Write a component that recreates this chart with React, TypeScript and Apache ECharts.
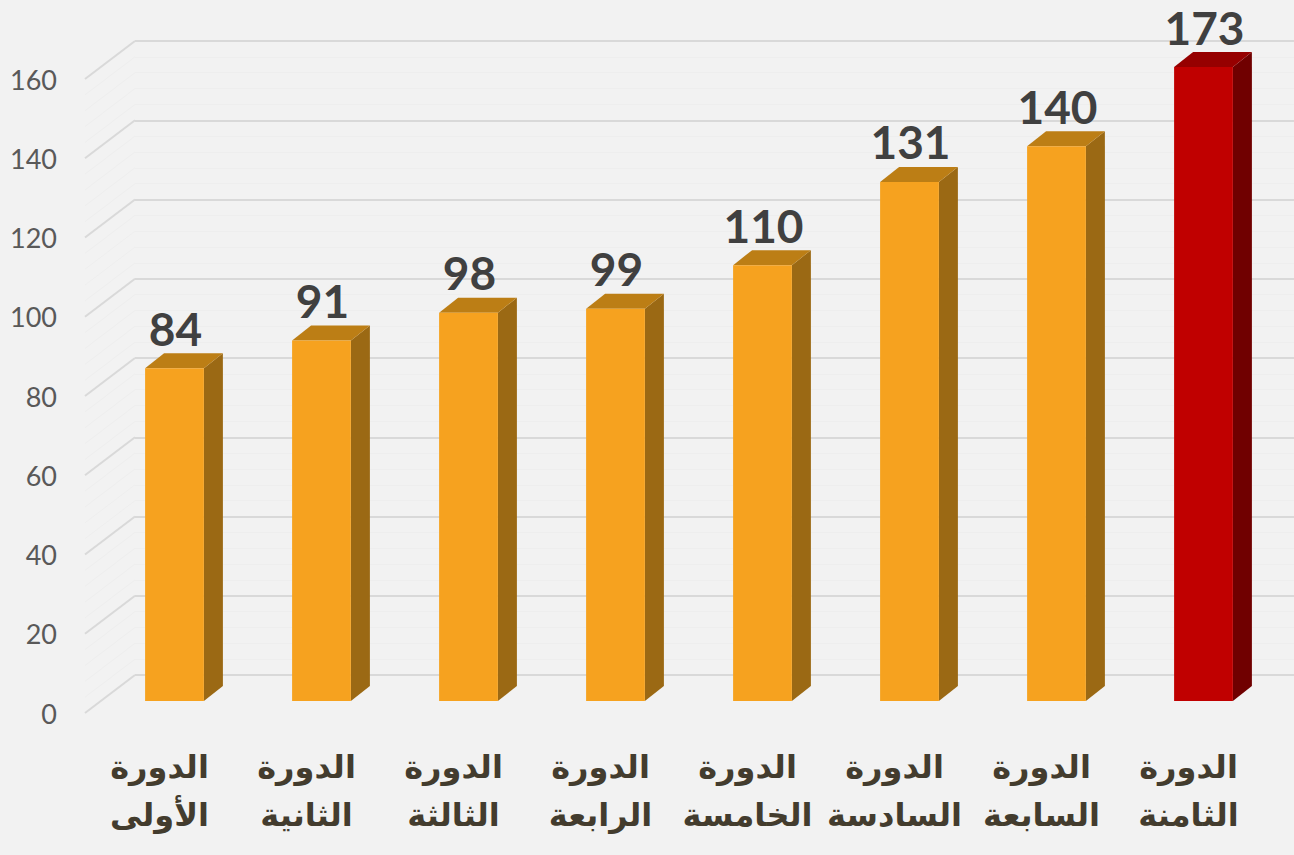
import React, { useEffect, useRef } from "react";
import * as echarts from "echarts";

const categories = [
  "الدورة\nالأولى",
  "الدورة\nالثانية",
  "الدورة\nالثالثة",
  "الدورة\nالرابعة",
  "الدورة\nالخامسة",
  "الدورة\nالسادسة",
  "الدورة\nالسابعة",
  "الدورة\nالثامنة",
];
const values = [84, 91, 98, 99, 110, 131, 140, 173];
const highlightIndex = 7;
const axisMin = 0;
const axisMax = 160;
const axisInterval = 20;
const minorStep = 4;

const minorTicks: number[] = [];
for (let v = axisMin; v <= axisMax; v += minorStep) minorTicks.push(v);

export default function App() {
  const ref = useRef<HTMLDivElement>(null);
  useEffect(() => {
    document.body.style.margin = "0";
    document.body.style.background = "#f2f2f2";
    const chart = echarts.init(ref.current!, null, { renderer: "svg" });
    const H = 634;
    const option: any = {
      animation: false,
      backgroundColor: "#f2f2f2",
      grid: [
        { left: 101, top: 67, width: 1176, height: H }, // bar plane
        { left: 135, top: 41, right: 0, height: H }, // back wall
        { left: 85, top: 79, width: 50, height: H }, // front edge (labels + diagonals)
        { left: 86, top: 79, width: 1176, height: H }, // category labels
      ],
      xAxis: [
        { type: "category", gridIndex: 0, data: categories, show: false },
        { type: "value", gridIndex: 1, min: 0, max: 1, show: false },
        { type: "value", gridIndex: 2, min: 0, max: 1, show: false },
        {
          type: "category",
          gridIndex: 3,
          data: categories,
          axisLine: { show: false },
          axisTick: { show: false },
          splitLine: { show: false },
          axisLabel: {
            interval: 0,
            margin: 30,
            color: "#433c2e",
            fontFamily: "DejaVu Sans",
            fontWeight: "bold",
            fontSize: 32,
            lineHeight: 48,
          },
        },
      ],
      yAxis: [
        { type: "value", gridIndex: 0, min: axisMin, max: axisMax, interval: axisInterval, show: false },
        {
          type: "value",
          gridIndex: 1,
          min: axisMin,
          max: axisMax,
          interval: axisInterval,
          axisLine: { show: false },
          axisTick: { show: false },
          axisLabel: { show: false },
          splitLine: { show: true, lineStyle: { color: "#d9d9d9", width: 2 } },
          minorTick: { show: false, splitNumber: 5 },
          minorSplitLine: { show: true, lineStyle: { color: "#eeeeee", width: 1 } },
        },
        {
          type: "value",
          gridIndex: 2,
          min: axisMin,
          max: axisMax,
          interval: axisInterval,
          axisLine: { show: false },
          axisTick: { show: false },
          splitLine: { show: false },
          axisLabel: {
            margin: 28,
            color: "#595959",
            fontFamily: "Lato",
            fontSize: 27,
          },
        },
        { type: "value", gridIndex: 3, min: axisMin, max: axisMax, show: false },
      ],
      series: [
        {
          type: "custom",
          xAxisIndex: 2,
          yAxisIndex: 2,
          silent: true,
          data: minorTicks.map((v) => [0, v]),
          renderItem: (params: any, api: any) => {
            const v = api.value(1);
            const p = api.coord([0, v]);
            const major = v % axisInterval === 0;
            return {
              type: "line",
              shape: { x1: p[0], y1: p[1], x2: p[0] + 50, y2: p[1] - 38 },
              style: { stroke: major ? "#d9d9d9" : "#eeeeee", lineWidth: major ? 2 : 1 },
            };
          },
        },
        {
          type: "custom",
          xAxisIndex: 0,
          yAxisIndex: 0,
          silent: true,
          clip: false,
          data: values.map((v, i) => [i, Math.min(v, axisMax), v]),
          renderItem: (params: any, api: any) => {
            const idx = params.dataIndex;
            const x = api.value(0);
            const v = api.value(1);
            const raw = api.value(2);
            const top = api.coord([x, v]);
            const bot = api.coord([x, 0]);
            const bw = api.size([1, 0])[0] * 0.4;
            const xl = top[0] - bw / 2;
            const xr = top[0] + bw / 2;
            const yt = top[1];
            const yb = bot[1];
            const dx = 19;
            const dy = -15;
            const hi = idx === highlightIndex;
            const front = hi ? "#c00000" : "#f6a21f";
            const topC = hi ? "#960000" : "#bc7e15";
            const side = hi ? "#700000" : "#9b6914";
            return {
              type: "group",
              children: [
                {
                  type: "polygon",
                  shape: { points: [[xr, yt], [xr + dx, yt + dy], [xr + dx, yb + dy], [xr, yb]] },
                  style: { fill: side },
                },
                {
                  type: "polygon",
                  shape: { points: [[xl, yt], [xl + dx, yt + dy], [xr + dx, yt + dy], [xr, yt]] },
                  style: { fill: topC },
                },
                {
                  type: "rect",
                  shape: { x: xl, y: yt, width: bw, height: yb - yt },
                  style: { fill: front },
                },
                {
                  type: "text",
                  x: top[0] + 1,
                  y: yt + dy - 5,
                  style: {
                    text: String(raw),
                    textAlign: "center",
                    textVerticalAlign: "bottom",
                    fill: "#404040",
                    font: "bold 46px Lato",
                    lineHeight: 40,
                  },
                },
              ],
            };
          },
        },
      ],
    };
    chart.setOption(option);
    return () => chart.dispose();
  }, []);
  return (
    <div
      ref={ref}
      style={{ position: "absolute", left: 0, top: 0, width: 1294, height: 855 }}
    />
  );
}
